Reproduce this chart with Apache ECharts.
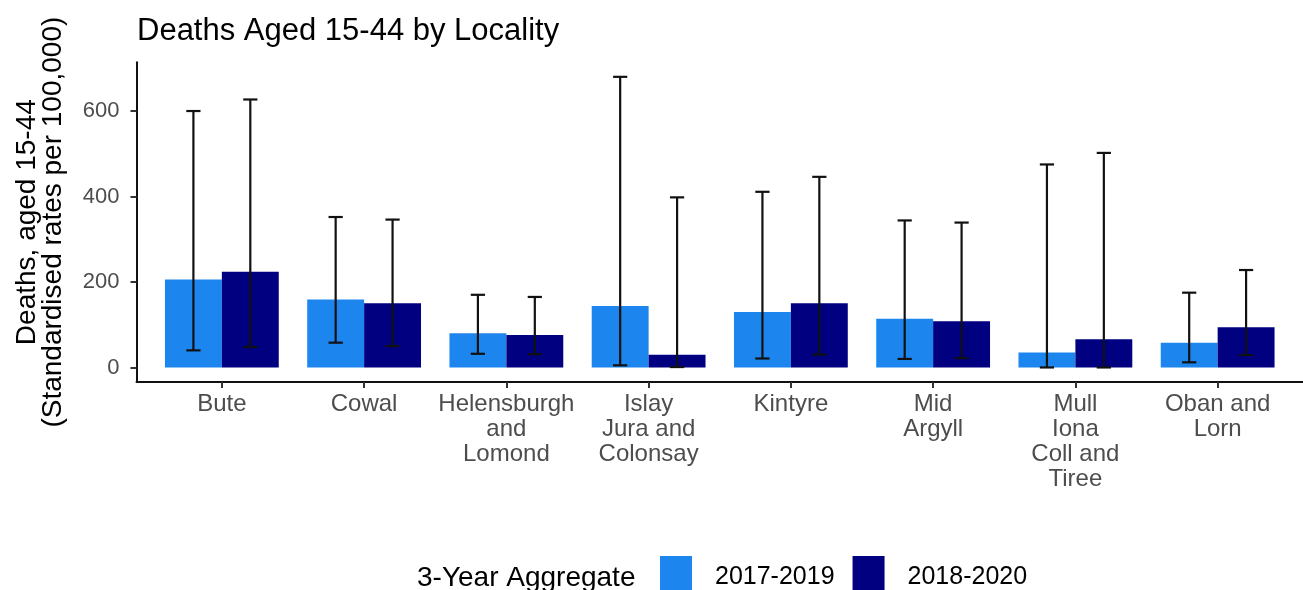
<!DOCTYPE html>
<html><head><meta charset="utf-8">
<script src="https://cdn.jsdelivr.net/npm/echarts@6/dist/echarts.min.js"></script>
<style>html,body{margin:0;padding:0;background:#fff}#c{width:1303px;height:590px}</style>
</head><body><div id="c"></div>
<script>
const categories = ['Bute', 'Cowal', 'Helensburgh\nand\nLomond', 'Islay\nJura and\nColonsay', 'Kintyre', 'Mid\nArgyll', 'Mull\nIona\nColl and\nTiree', 'Oban and\nLorn'];
const seriesNames = ['2017-2019', '2018-2020'];
const rate1719 = [206, 159, 80, 144, 130, 114, 35, 58];
const rate1820 = [224, 150, 76, 30, 150, 108, 66, 94];
const lower1719 = [40, 58, 32, 5, 21, 20, 0, 12];
const upper1719 = [600, 352, 170, 680, 411, 344, 475, 175];
const lower1820 = [48, 50, 31, 1, 30, 22, 0, 29];
const upper1820 = [627, 346, 165, 398, 446, 339, 502, 228];
const yTicks = [0, 200, 400, 600];

const FONT = 'Liberation Sans';
const catIdx = categories.map((_, i) => i);

function errRenderer(shift) {
  return function (params, api) {
    const x = api.value(0), lo = api.value(1), hi = api.value(2);
    const unit = api.size([1, 0])[0];
    const pLo = api.coord([x + shift, lo]);
    const pHi = api.coord([x + shift, hi]);
    const half = unit * 0.05;
    const style = { stroke: '#111', lineWidth: 2.2 };
    return {
      type: 'group', children: [
        { type: 'line', shape: { x1: pLo[0], y1: pLo[1], x2: pHi[0], y2: pHi[1] }, style },
        { type: 'line', shape: { x1: pLo[0] - half, y1: pLo[1], x2: pLo[0] + half, y2: pLo[1] }, style },
        { type: 'line', shape: { x1: pHi[0] - half, y1: pHi[1], x2: pHi[0] + half, y2: pHi[1] }, style }
      ]
    };
  };
}

const chart = echarts.init(document.getElementById('c'), null, { renderer: 'canvas' });
chart.setOption({
  animation: false,
  backgroundColor: '#fff',
  textStyle: { fontFamily: FONT },
  title: [
    { text: 'Deaths Aged 15-44 by Locality', left: 137, top: 16, padding: 0,
      textStyle: { fontFamily: FONT, fontSize: 31, fontWeight: 'normal', color: '#000' } },
    { text: '3-Year Aggregate', left: 417, top: 564, padding: 0,
      textStyle: { fontFamily: FONT, fontSize: 28, fontWeight: 'normal', color: '#000' } }
  ],
  legend: {
    data: seriesNames, left: 660, top: 556, icon: 'rect', padding: 0,
    itemWidth: 32, itemHeight: 42, itemGap: 18,
    textStyle: { fontFamily: FONT, fontSize: 25, color: '#000', padding: [0, 0, 0, 18] }
  },
  grid: { left: 136.5, right: -6, top: 62.3, bottom: 208, containLabel: false },
  xAxis: {
    type: 'value', min: -0.6, max: 7.6,
    splitLine: { show: false },
    axisLine: { onZero: false, lineStyle: { color: '#111', width: 2 } },
    axisTick: { show: true, length: 6, customValues: catIdx, lineStyle: { color: '#333', width: 2 } },
    axisLabel: {
      customValues: catIdx, formatter: v => categories[Math.round(v)],
      fontFamily: FONT, fontSize: 24, lineHeight: 25, color: '#4D4D4D', margin: 10, align: 'center'
    }
  },
  yAxis: {
    type: 'value', min: -34, max: 714,
    splitLine: { show: false },
    axisLine: { show: true, onZero: false, lineStyle: { color: '#111', width: 2 } },
    axisTick: { show: true, length: 6, customValues: yTicks, lineStyle: { color: '#333', width: 2 } },
    axisLabel: { customValues: yTicks, fontFamily: FONT, fontSize: 22, color: '#4D4D4D', margin: 17 },
    name: 'Deaths, aged 15-44\n(Standardised rates per 100,000)',
    nameLocation: 'middle', nameRotate: 90, nameGap: 70,
    nameTextStyle: { fontFamily: FONT, fontSize: 28, lineHeight: 26, color: '#000' }
  },
  series: [
    { name: seriesNames[0], type: 'bar', barWidth: '40%', barGap: '0%',
      itemStyle: { color: '#1C86EE' },
      data: rate1719.map((v, i) => [i, v]) },
    { name: seriesNames[1], type: 'bar', barWidth: '40%', barGap: '0%',
      itemStyle: { color: '#000080' },
      data: rate1820.map((v, i) => [i, v]) },
    { name: 'err1', type: 'custom', z: 5, renderItem: errRenderer(-0.2),
      encode: { x: 0, y: [1, 2] },
      data: lower1719.map((v, i) => [i, v, upper1719[i]]) },
    { name: 'err2', type: 'custom', z: 5, renderItem: errRenderer(0.2),
      encode: { x: 0, y: [1, 2] },
      data: lower1820.map((v, i) => [i, v, upper1820[i]]) }
  ]
});
</script>
</body></html>
